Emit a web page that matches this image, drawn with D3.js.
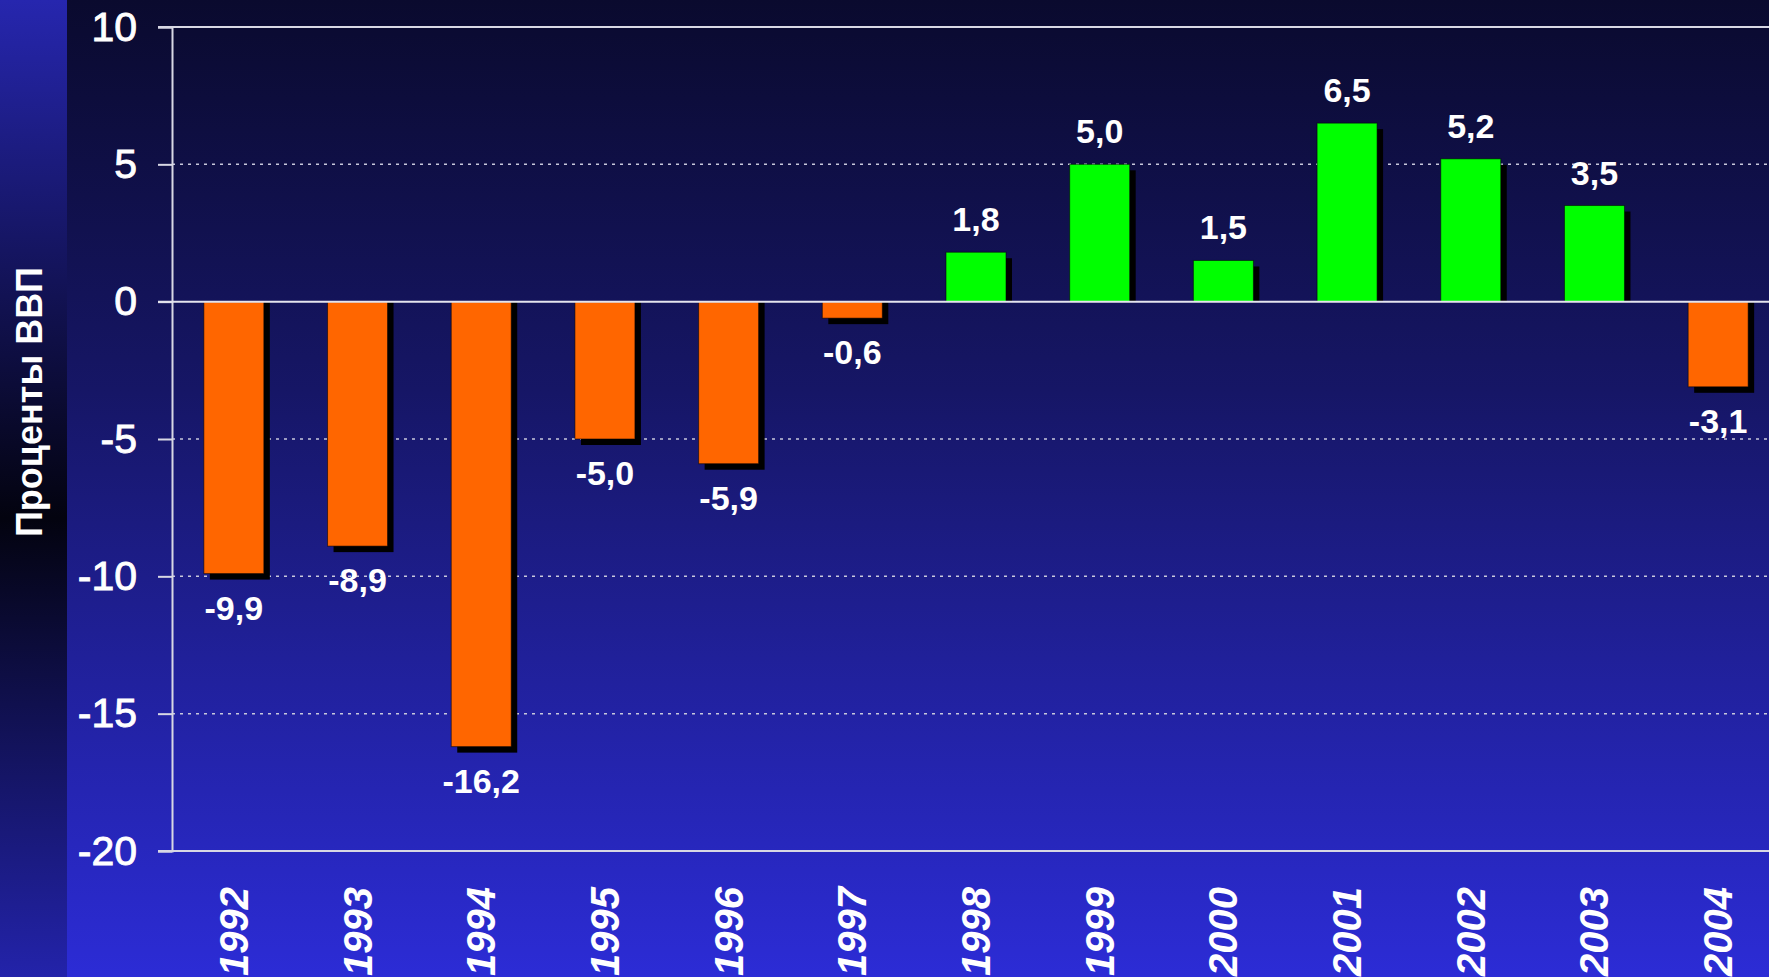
<!DOCTYPE html>
<html>
<head>
<meta charset="utf-8">
<script src="https://cdn.jsdelivr.net/npm/d3@7"></script>
<style>
  html, body { margin: 0; padding: 0; background: #0b0b35; overflow: hidden; }
  text { font-family: "Liberation Sans", Arial, sans-serif; fill: #fff; }
</style>
</head>
<body>
<div id="vis"></div>
<script>
// budget balance, % of GDP
const years = ["1992", "1993", "1994", "1995", "1996", "1997", "1998",
               "1999", "2000", "2001", "2002", "2003", "2004"];
const values = [-9.9, -8.9, -16.2, -5.0, -5.9, -0.6, 1.8, 5.0, 1.5, 6.5, 5.2, 3.5, -3.1];
const yTicks = [10, 5, 0, -5, -10, -15, -20];
const yTitle = "Проценты ВВП";

const W = 1769, H = 977;
const stripW = 67;

const svg = d3.select("#vis").append("svg")
  .attr("width", W)
  .attr("height", H);

const defs = svg.append("defs");

// left strip: bright -> black -> bright
const gStrip = defs.append("linearGradient")
  .attr("id", "stripGrad").attr("x1", 0).attr("y1", 0).attr("x2", 0).attr("y2", 1);
gStrip.append("stop").attr("offset", "0%").attr("stop-color", "#2626ae");
gStrip.append("stop").attr("offset", "53%").attr("stop-color", "#03030f");
gStrip.append("stop").attr("offset", "100%").attr("stop-color", "#2323aa");

// main panel: dark navy -> blue
const gMain = defs.append("linearGradient")
  .attr("id", "mainGrad").attr("x1", 0).attr("y1", 0).attr("x2", 0).attr("y2", 1);
gMain.append("stop").attr("offset", "0%").attr("stop-color", "#0a0a2e");
gMain.append("stop").attr("offset", "40%").attr("stop-color", "#161666");
gMain.append("stop").attr("offset", "100%").attr("stop-color", "#2c2cd6");

svg.append("rect").attr("x", 0).attr("y", 0).attr("width", stripW).attr("height", H)
  .attr("fill", "url(#stripGrad)");
svg.append("rect").attr("x", stripW).attr("y", 0).attr("width", W - stripW).attr("height", H)
  .attr("fill", "url(#mainGrad)");

// scales
const x = d3.scaleBand()
  .domain(years)
  .range([172, 1780])
  .paddingInner(0.515)
  .paddingOuter(0.2575);

const y = d3.scaleLinear()
  .domain([-20, 10])
  .range([851, 27]);

const fmt = v => d3.format(".1f")(v).replace(".", ",").replace("−", "-");

// gridlines (dotted)
svg.append("g").selectAll("line")
  .data(yTicks.filter(t => t !== 10 && t !== 0))
  .join("line")
  .attr("x1", 172).attr("x2", W)
  .attr("y1", d => y(d)).attr("y2", d => y(d))
  .attr("stroke", "#c8c8dc")
  .attr("stroke-width", 1.5)
  .attr("stroke-dasharray", "3,5");

// solid lines at top and bottom
svg.append("g").selectAll("line")
  .data([10, -20])
  .join("line")
  .attr("x1", 158).attr("x2", W)
  .attr("y1", d => y(d)).attr("y2", d => y(d))
  .attr("stroke", "#d8d8e4")
  .attr("stroke-width", 2);

// y axis
const yAxis = d3.axisLeft(y)
  .tickValues(yTicks)
  .tickSize(14)
  .tickPadding(21)
  .tickFormat(d => d3.format("d")(d).replace("−", "-"));

const gy = svg.append("g")
  .attr("transform", "translate(172,0)")
  .call(yAxis);
gy.select(".domain").attr("stroke", "#d8d8e4").attr("stroke-width", 2);
gy.selectAll(".tick line").attr("stroke", "#d8d8e4").attr("stroke-width", 2);
gy.selectAll(".tick text")
  .attr("fill", "#fff")
  .attr("stroke", "#fff")
  .attr("stroke-width", 0.9)
  .style("font-family", "'Liberation Sans', Arial, sans-serif")
  .style("font-size", "41px")
  .style("font-weight", "normal");

// bars
const bars = svg.append("g");
const off = 6;

// shadows
bars.selectAll("rect.shadow")
  .data(values)
  .join("rect")
  .attr("class", "shadow")
  .attr("x", (d, i) => x(years[i]) + off)
  .attr("y", d => d >= 0 ? y(d) + off : y(0))
  .attr("width", x.bandwidth())
  .attr("height", d => d >= 0 ? Math.max(0, y(0) - y(d) - off) : y(d) - y(0) + off)
  .attr("fill", "#000");

bars.selectAll("rect.bar")
  .data(values)
  .join("rect")
  .attr("class", "bar")
  .attr("x", (d, i) => x(years[i]))
  .attr("y", d => Math.min(y(d), y(0)))
  .attr("width", x.bandwidth())
  .attr("height", d => Math.abs(y(d) - y(0)))
  .attr("fill", d => d >= 0 ? "#00ff00" : "#ff6600")
  .attr("stroke", "rgba(0,0,0,0.55)")
  .attr("stroke-width", 1);

// zero line over bars
svg.append("line")
  .attr("x1", 158).attr("x2", W)
  .attr("y1", y(0)).attr("y2", y(0))
  .attr("stroke", "#e4e4ee")
  .attr("stroke-width", 2);

// value labels
svg.append("g").selectAll("text")
  .data(values)
  .join("text")
  .attr("x", (d, i) => x(years[i]) + x.bandwidth() / 2)
  .attr("y", d => d >= 0 ? y(d) - 21 : y(d) + 46)
  .attr("text-anchor", "middle")
  .style("font-size", "34px")
  .style("font-weight", "bold")
  .text(d => fmt(d));

// year labels, rotated
svg.append("g").selectAll("text")
  .data(years)
  .join("text")
  .attr("transform", d => `translate(${x(d) + x.bandwidth() / 2 + 14},887) rotate(-90)`)
  .attr("text-anchor", "end")
  .style("font-size", "40px")
  .style("font-weight", "bold")
  .style("font-style", "italic")
  .text(d => d);

// y title
svg.append("text")
  .attr("transform", "translate(42,402) rotate(-90)")
  .attr("text-anchor", "middle")
  .style("font-size", "36px")
  .style("font-weight", "bold")
  .text(yTitle);
</script>
</body>
</html>
